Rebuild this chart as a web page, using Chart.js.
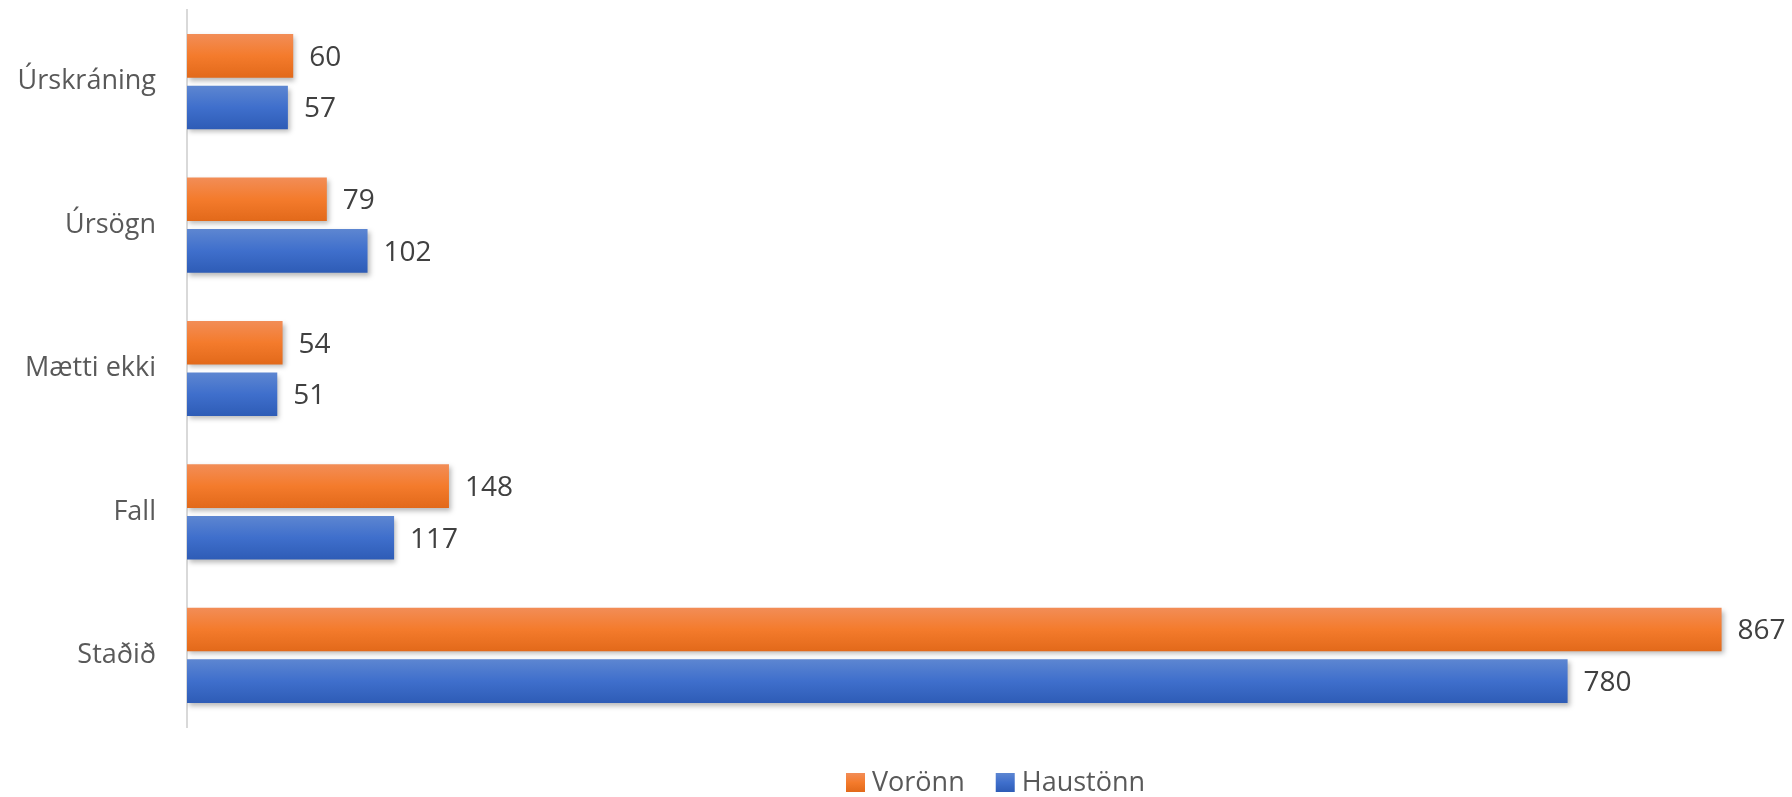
<!DOCTYPE html>
<html lang="en">
<head>
<meta charset="UTF-8">
<title>Chart</title>
<style>
html, body { margin: 0; padding: 0; background: #fff; }
#wrap { width: 1792px; height: 797px; }
</style>
</head>
<body>
<div id="wrap">
    <canvas id="myChart"></canvas>
</div>
<script src="https://cdn.jsdelivr.net/npm/chart.js"></script>
<script>
const categories = ['Úrskráning', 'Úrsögn', 'Mætti ekki', 'Fall', 'Staðið'];
const voronn = [60, 79, 54, 148, 867];
const haustonn = [57, 102, 51, 117, 780];
const seriesNames = ['Vorönn', 'Haustönn'];

const FONT = "'Open Sans', sans-serif";

// gradient stops for each series: top, middle, bottom
const grads = [
    ['#f28d57', '#f47b2c', '#e2691a'],
    ['#5d86d1', '#3f6fcc', '#2e5cb6']
];

function makeGrad(c, i, top, h) {
    let g = c.createLinearGradient(0, top, 0, top + h);
    g.addColorStop(0, grads[i][0]);
    g.addColorStop(0.5, grads[i][1]);
    g.addColorStop(1, grads[i][2]);
    return g;
}

const barLook = {
    id: 'barLook',
    beforeDatasetsDraw(chart) {
        const ctx = chart.ctx;
        chart.data.datasets.forEach(function(ds, i) {
            chart.getDatasetMeta(i).data.forEach(function(el) {
                el.options.backgroundColor = makeGrad(ctx, i, el.y - el.height / 2, el.height);
            });
        });
        ctx.save();
        ctx.shadowColor = 'rgba(0,0,0,0.28)';
        ctx.shadowBlur = 5;
        ctx.shadowOffsetX = 2;
        ctx.shadowOffsetY = 3;
    },
    afterDatasetsDraw(chart) {
        const ctx = chart.ctx;
        ctx.restore();
        ctx.save();
        ctx.font = '28px ' + FONT;
        ctx.fillStyle = '#404040';
        ctx.textAlign = 'left';
        ctx.textBaseline = 'middle';
        chart.data.datasets.forEach(function(ds, i) {
            chart.getDatasetMeta(i).data.forEach(function(el, j) {
                ctx.fillText(String(ds.data[j]), el.x + 16, el.y + 2);
            });
        });
        ctx.restore();
    },
    afterDraw(chart) {
        // legend under the plot
        const ctx = chart.ctx;
        ctx.save();
        ctx.font = '27px ' + FONT;
        ctx.textBaseline = 'middle';
        let x = 846;
        let yMid = 783;
        seriesNames.forEach(function(name, i) {
            ctx.fillStyle = makeGrad(ctx, i, yMid - 10, 19);
            ctx.fillRect(x, yMid - 10, 19, 19);
            ctx.fillStyle = '#595959';
            ctx.fillText(name, x + 26, yMid);
            x += 26 + ctx.measureText(name).width + 31;
        });
        ctx.restore();
    }
};

const ctx = document.getElementById('myChart');

let chart = new Chart(ctx, {
    type: 'bar',
    data: {
        labels: categories,
        datasets: [{
            label: seriesNames[0],
            data: voronn,
            backgroundColor: function() { return grads[0][1]; },
            borderWidth: 0,
            categoryPercentage: 0.72,
            barPercentage: 0.845
        },
        {
            label: seriesNames[1],
            data: haustonn,
            backgroundColor: function() { return grads[1][1]; },
            borderWidth: 0,
            categoryPercentage: 0.72,
            barPercentage: 0.845
        }]
    },
    plugins: [barLook],
    options: {
        indexAxis: 'y',
        responsive: true,
        maintainAspectRatio: false,
        animation: false,
        layout: {
            padding: { top: 10, right: 12, bottom: 70, left: 0 }
        },
        scales: {
            x: {
                display: false,
                min: 0,
                max: 900
            },
            y: {
                afterFit: function(scale) {
                    scale.width = 187;
                    scale.paddingTop = 0;
                    scale.paddingBottom = 0;
                },
                grid: { display: false, drawTicks: false },
                border: { display: true, color: '#d9d9d9', width: 2 },
                ticks: {
                    padding: 31,
                    color: '#595959',
                    font: { family: FONT, size: 27 }
                }
            }
        },
        plugins: {
            legend: { display: false },
            tooltip: { enabled: false }
        }
    }
});
</script>
</body>
</html>
